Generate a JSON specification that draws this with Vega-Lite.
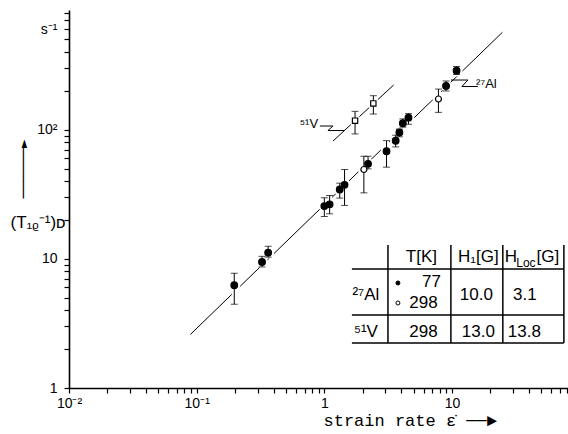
{
  "$schema": "https://vega.github.io/schema/vega-lite/v6.json",
  "width": 499,
  "height": 378,
  "autosize": {"type": "none"},
  "padding": {"left": 69, "top": 10, "right": 0, "bottom": 46},
  "background": "white",
  "title": {
    "text": "──────►",
    "orient": "left",
    "anchor": "middle",
    "frame": "group",
    "font": "DejaVu Sans Mono",
    "fontSize": 14,
    "fontWeight": "bold",
    "color": "black",
    "offset": 0,
    "dx": 30,
    "dy": 21
  },
  "config": {
    "view": {"stroke": null},
    "axis": {
      "grid": false,
      "domainColor": "black",
      "tickColor": "black",
      "labelColor": "black",
      "titleColor": "black",
      "labelFont": "Liberation Sans",
      "titleFont": "Liberation Sans",
      "titleFontWeight": "normal"
    },
    "text": {"font": "Liberation Sans", "color": "black"}
  },
  "datasets": {
    "pts": [
      {"s": "Al 77 K", "x": 0.197, "y": 6.24, "lo": 4.45, "hi": 7.73},
      {"s": "Al 77 K", "x": 0.325, "y": 9.45, "lo": 8.65, "hi": 10.45},
      {"s": "Al 77 K", "x": 0.363, "y": 11.16, "lo": 10.3, "hi": 12.5},
      {"s": "Al 77 K", "x": 1.0, "y": 25.6, "lo": 21.3, "hi": 29.7},
      {"s": "Al 77 K", "x": 1.1, "y": 26.4, "lo": 22.3, "hi": 30.9},
      {"s": "Al 77 K", "x": 1.32, "y": 34.4, "lo": 29.5, "hi": 38.5},
      {"s": "Al 77 K", "x": 1.44, "y": 37.4, "lo": 25.9, "hi": 49.1},
      {"s": "Al 77 K", "x": 2.2, "y": 54.3, "lo": 49.7, "hi": 62.2},
      {"s": "Al 77 K", "x": 3.07, "y": 68.0, "lo": 51.2, "hi": 82.2},
      {"s": "Al 77 K", "x": 3.62, "y": 82.0, "lo": 73.5, "hi": 90.5},
      {"s": "Al 77 K", "x": 3.87, "y": 95.0, "lo": 88.0, "hi": 101.0},
      {"s": "Al 77 K", "x": 4.12, "y": 112.0, "lo": 104.5, "hi": 121.0},
      {"s": "Al 77 K", "x": 4.56, "y": 123.5, "lo": 110.0, "hi": 133.0},
      {"s": "Al 77 K", "x": 8.98, "y": 218.0, "lo": 199.0, "hi": 238.0},
      {"s": "Al 77 K", "x": 10.86, "y": 286.0, "lo": 267.0, "hi": 308.0},
      {"s": "Al 298 K", "x": 2.04, "y": 49.1, "lo": 32.4, "hi": 62.2},
      {"s": "Al 298 K", "x": 7.83, "y": 172.6, "lo": 136.0, "hi": 206.0},
      {"s": "V 298 K", "x": 1.74, "y": 117.3, "lo": 92.6, "hi": 138.5},
      {"s": "V 298 K", "x": 2.42, "y": 159.6, "lo": 132.0, "hi": 183.0}
    ],
    "fits": [
      {"nuc": "Al", "x": 0.0894, "y": 2.6},
      {"nuc": "Al", "x": 24.8, "y": 566},
      {"nuc": "V", "x": 1.17, "y": 81.6},
      {"nuc": "V", "x": 3.49, "y": 221.5}
    ],
    "zig": [
      {"g": "V", "i": 0, "x": 0.924, "y": 106.6},
      {"g": "V", "i": 1, "x": 1.168, "y": 106.6},
      {"g": "V", "i": 2, "x": 1.067, "y": 98.4},
      {"g": "V", "i": 3, "x": 1.45, "y": 98.4},
      {"g": "Al", "i": 0, "x": 9.8, "y": 242},
      {"g": "Al", "i": 1, "x": 13.32, "y": 242},
      {"g": "Al", "i": 2, "x": 11.95, "y": 215.6},
      {"g": "Al", "i": 3, "x": 15.95, "y": 215.6}
    ],
    "notes": [
      {"t": "⁵¹V", "x": 0.757, "y": 110.5},
      {"t": "²⁷Al", "x": 18.6, "y": 225}
    ],
    "tableLines": [
      {"x": 1.644, "x2": 75.2, "y": 8.34, "y2": 8.34},
      {"x": 1.644, "x2": 75.2, "y": 3.67, "y2": 3.67},
      {"x": 1.644, "x2": 75.2, "y": 2.23, "y2": 2.23},
      {"x": 3.15, "x2": 3.15, "y": 12.79, "y2": 2.23},
      {"x": 9.8, "x2": 9.8, "y": 12.79, "y2": 2.23},
      {"x": 25.0, "x2": 25.0, "y": 12.79, "y2": 2.23},
      {"x": 75.2, "x2": 75.2, "y": 12.79, "y2": 2.23}
    ],
    "cells": [
      {"t": "T[K]", "x": 5.76, "y": 10.38},
      {"t": "H₁[G]", "x": 16.1, "y": 10.38},
      {"t": "H", "x": 28.9, "y": 10.38},
      {"t": "[G]", "x": 56.4, "y": 10.38},
      {"t": "²⁷Al", "x": 2.117, "y": 5.25},
      {"t": "77", "x": 6.9, "y": 6.65},
      {"t": "298", "x": 5.97, "y": 4.55},
      {"t": "10.0", "x": 15.5, "y": 5.25},
      {"t": "3.1", "x": 37.2, "y": 5.25},
      {"t": "⁵¹V", "x": 2.117, "y": 2.73},
      {"t": "298", "x": 5.97, "y": 2.73},
      {"t": "13.0", "x": 16.1, "y": 2.73},
      {"t": "13.8", "x": 36.9, "y": 2.73}
    ],
    "subCells": [
      {"t": "Loc", "x": 37.9, "y": 9.28}
    ],
    "keys": [
      {"s": "Al 77 K", "x": 3.77, "y": 6.5},
      {"s": "Al 298 K", "x": 3.77, "y": 4.55}
    ]
  },
  "layer": [
    {
      "data": {"name": "fits"},
      "transform": [{"filter": "datum.nuc == 'Al'"}],
      "mark": {"type": "line", "color": "black", "strokeWidth": 1},
      "encoding": {
        "x": {"field": "x", "type": "quantitative", "scale": {"type": "log", "domain": [0.01, 81], "nice": false},
          "axis": {
            "values": [0.01, 0.02, 0.03, 0.04, 0.05, 0.06, 0.07, 0.08, 0.09, 0.1, 0.2, 0.3, 0.4, 0.5, 0.6, 0.7, 0.8, 0.9, 1, 2, 3, 4, 5, 6, 7, 8, 9, 10, 20, 30, 40, 50, 60, 70, 80],
            "labelExpr": "datum.value == 0.01 ? '10⁻²' : datum.value == 0.1 ? '10⁻¹' : datum.value == 1 ? '1' : datum.value == 10 ? '10' : ''",
            "domainWidth": 1.6, "tickWidth": 1.2, "tickSize": 5, "labelPadding": 3,
            "labelFontSize": 14, "labelFlush": false, "labelOverlap": false,
            "title": "strain rate ε̇ ──►", "titleFont": "Liberation Mono", "titleFontSize": 17,
            "titleAlign": "left", "titleBaseline": "alphabetic", "titleX": 254, "titleY": 37
          }},
        "y": {"field": "y", "type": "quantitative", "scale": {"type": "log", "domain": [1, 843], "nice": false},
          "axis": {
            "values": [1, 2, 3, 4, 5, 6, 7, 8, 9, 10, 20, 30, 40, 50, 60, 70, 80, 90, 100, 200, 300, 400, 500, 600, 700, 800],
            "labelExpr": "datum.value == 1 ? '1' : datum.value == 10 ? '10' : datum.value == 100 ? '10²' : datum.value == 600 ? 's⁻¹' : ''",
            "domainWidth": 1.6, "tickWidth": 1.2, "tickSize": 5, "labelPadding": 7,
            "labelFontSize": 14, "labelFlush": false, "labelOverlap": false,
            "title": "(T₁ᵨ⁻¹)ᴅ", "titleAngle": 0, "titleFontSize": 17,
            "titleAlign": "left", "titleBaseline": "middle", "titleX": -59, "titleY": 212
          }}
      }
    },
    {
      "data": {"name": "fits"},
      "transform": [{"filter": "datum.nuc == 'V'"}],
      "mark": {"type": "line", "color": "black", "strokeWidth": 1},
      "encoding": {
        "x": {"field": "x", "type": "quantitative"},
        "y": {"field": "y", "type": "quantitative"}
      }
    },
    {
      "data": {"name": "zig"},
      "mark": {"type": "line", "color": "black", "strokeWidth": 1},
      "encoding": {
        "x": {"field": "x", "type": "quantitative"},
        "y": {"field": "y", "type": "quantitative"},
        "detail": {"field": "g", "type": "nominal"},
        "order": {"field": "i", "type": "ordinal"}
      }
    },
    {
      "data": {"name": "pts"},
      "mark": {"type": "rule", "color": "white", "strokeWidth": 5},
      "encoding": {
        "x": {"field": "x", "type": "quantitative"},
        "y": {"field": "lo", "type": "quantitative"},
        "y2": {"field": "hi"}
      }
    },
    {
      "data": {"name": "pts"},
      "mark": {"type": "point", "filled": true, "color": "white", "opacity": 1, "size": 140, "shape": "circle"},
      "encoding": {
        "x": {"field": "x", "type": "quantitative"},
        "y": {"field": "y", "type": "quantitative"}
      }
    },
    {
      "data": {"name": "pts"},
      "mark": {"type": "rule", "color": "black", "strokeWidth": 1},
      "encoding": {
        "x": {"field": "x", "type": "quantitative"},
        "y": {"field": "lo", "type": "quantitative"},
        "y2": {"field": "hi"}
      }
    },
    {
      "data": {"name": "pts"},
      "mark": {"type": "tick", "orient": "horizontal", "color": "black", "size": 7, "thickness": 1},
      "encoding": {
        "x": {"field": "x", "type": "quantitative"},
        "y": {"field": "lo", "type": "quantitative"}
      }
    },
    {
      "data": {"name": "pts"},
      "mark": {"type": "tick", "orient": "horizontal", "color": "black", "size": 7, "thickness": 1},
      "encoding": {
        "x": {"field": "x", "type": "quantitative"},
        "y": {"field": "hi", "type": "quantitative"}
      }
    },
    {
      "data": {"name": "pts"},
      "mark": {"type": "point", "stroke": "black", "strokeWidth": 1.2, "opacity": 1, "fillOpacity": 1},
      "encoding": {
        "x": {"field": "x", "type": "quantitative"},
        "y": {"field": "y", "type": "quantitative"},
        "shape": {"field": "s", "type": "nominal", "scale": {"domain": ["Al 77 K", "Al 298 K", "V 298 K"], "range": ["circle", "circle", "square"]}, "legend": null},
        "fill": {"field": "s", "type": "nominal", "scale": {"domain": ["Al 77 K", "Al 298 K", "V 298 K"], "range": ["black", "white", "white"]}, "legend": null},
        "size": {"field": "s", "type": "nominal", "scale": {"domain": ["Al 77 K", "Al 298 K", "V 298 K"], "range": [44, 28, 56]}, "legend": null}
      }
    },
    {
      "data": {"name": "notes"},
      "mark": {"type": "text", "fontSize": 13, "align": "center", "baseline": "middle"},
      "encoding": {
        "x": {"field": "x", "type": "quantitative"},
        "y": {"field": "y", "type": "quantitative"},
        "text": {"field": "t", "type": "nominal"}
      }
    },
    {
      "data": {"name": "tableLines"},
      "mark": {"type": "rule", "color": "black", "strokeWidth": 1.5},
      "encoding": {
        "x": {"field": "x", "type": "quantitative"},
        "x2": {"field": "x2"},
        "y": {"field": "y", "type": "quantitative"},
        "y2": {"field": "y2"}
      }
    },
    {
      "data": {"name": "cells"},
      "mark": {"type": "text", "fontSize": 17, "align": "center", "baseline": "middle"},
      "encoding": {
        "x": {"field": "x", "type": "quantitative"},
        "y": {"field": "y", "type": "quantitative"},
        "text": {"field": "t", "type": "nominal"}
      }
    },
    {
      "data": {"name": "subCells"},
      "mark": {"type": "text", "fontSize": 12, "align": "center", "baseline": "middle"},
      "encoding": {
        "x": {"field": "x", "type": "quantitative"},
        "y": {"field": "y", "type": "quantitative"},
        "text": {"field": "t", "type": "nominal"}
      }
    },
    {
      "data": {"name": "keys"},
      "mark": {"type": "point", "stroke": "black", "strokeWidth": 1, "opacity": 1, "fillOpacity": 1, "size": 16},
      "encoding": {
        "x": {"field": "x", "type": "quantitative"},
        "y": {"field": "y", "type": "quantitative"},
        "shape": {"value": "circle"},
        "fill": {"field": "s", "type": "nominal", "scale": {"domain": ["Al 77 K", "Al 298 K", "V 298 K"], "range": ["black", "white", "white"]}, "legend": null}
      }
    }
  ]
}
